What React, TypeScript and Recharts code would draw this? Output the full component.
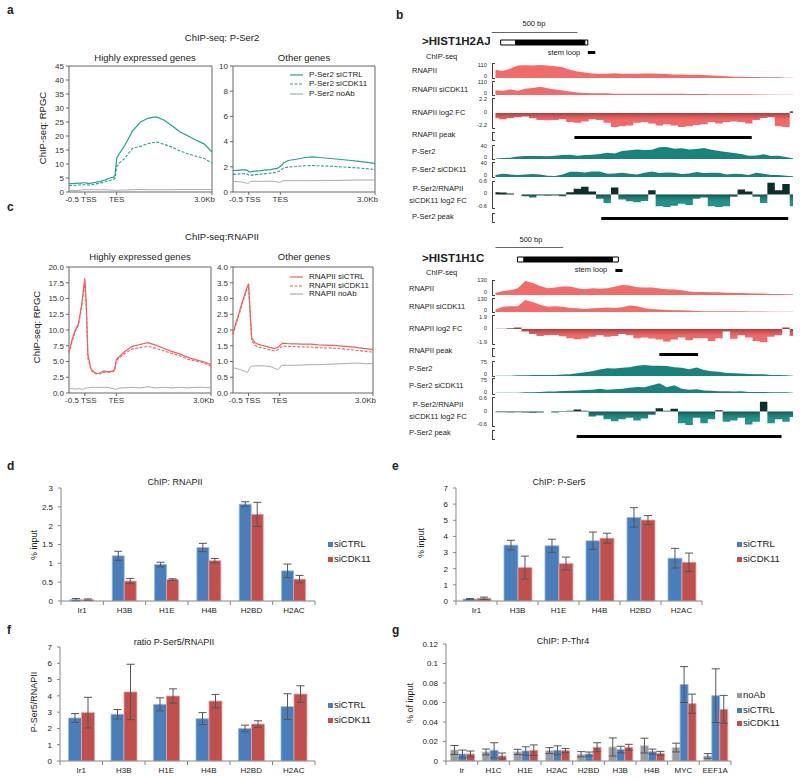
import React from 'react';
import {
  LineChart, Line, XAxis, YAxis, ReferenceArea, AreaChart, Area,
  BarChart, Bar, ErrorBar, ComposedChart,
} from 'recharts';

const FONT = '"Liberation Sans", Arial, Helvetica, sans-serif';

// ---------------- a / c : metagene profiles ----------------
const profileBp = [-500, -400, -300, -200, -100, -50, 0, 50, 100, 200, 300, 400, 500, 600, 700, 800, 900, 950, 1000, 1050, 1100, 1250, 1500, 1750, 2000, 2250, 2500, 2750, 3000, 3250, 3500, 3750, 4000];
const profileTicks = [0, 1000, 4000];
const profileTickLabels = ['-0.5 TSS', 'TES', '3.0Kb'];

const ser2HighCtrl = [3.0, 3.0, 3.1, 3.2, 3.2, 3.3, 3.3, 3.2, 3.1, 3.2, 3.4, 3.6, 3.8, 4.2, 4.6, 5.1, 5.2, 6.0, 12.0, 13.0, 14.0, 16.5, 21.8, 25.0, 26.4, 26.8, 25.6, 23.6, 21.4, 20.0, 18.5, 17.2, 14.3];
const ser2HighCdk = [2.3, 2.3, 2.4, 2.5, 2.5, 2.6, 2.6, 2.5, 2.5, 2.6, 2.8, 3.0, 3.2, 3.5, 3.9, 4.2, 4.4, 5.0, 9.0, 9.8, 10.5, 12.0, 15.6, 16.3, 17.3, 17.9, 17.0, 16.0, 14.6, 13.6, 12.8, 12.0, 10.3];
const ser2HighNoAb = [0.6, 0.6, 0.5, 0.6, 0.7, 0.8, 0.8, 0.8, 0.8, 0.8, 0.8, 0.8, 0.8, 0.8, 0.8, 0.7, 0.7, 0.6, 0.6, 0.6, 0.7, 0.7, 0.8, 0.9, 0.8, 0.8, 0.8, 0.8, 0.9, 0.9, 0.9, 0.9, 0.9];
const ser2OtherCtrl = [1.70, 1.72, 1.74, 1.75, 1.76, 1.72, 1.62, 1.60, 1.62, 1.65, 1.68, 1.70, 1.73, 1.76, 1.78, 1.83, 1.88, 1.95, 2.05, 2.15, 2.30, 2.50, 2.60, 2.72, 2.78, 2.74, 2.68, 2.62, 2.56, 2.50, 2.43, 2.35, 2.27];
const ser2OtherCdk = [1.40, 1.42, 1.44, 1.45, 1.46, 1.42, 1.34, 1.32, 1.34, 1.38, 1.40, 1.42, 1.44, 1.48, 1.50, 1.54, 1.58, 1.62, 1.70, 1.80, 1.90, 1.98, 2.02, 2.08, 2.10, 2.08, 2.05, 2.02, 1.98, 1.94, 1.90, 1.85, 1.80];
const ser2OtherNoAb = [0.85, 0.82, 0.80, 0.78, 0.72, 0.70, 0.70, 0.82, 0.85, 0.85, 0.85, 0.85, 0.85, 0.86, 0.86, 0.85, 0.80, 0.76, 0.78, 0.86, 0.90, 0.90, 0.90, 0.90, 0.90, 0.91, 0.92, 0.92, 0.93, 0.94, 0.95, 0.95, 0.95];

const polHighCtrl = [6.5, 8.5, 10.0, 11.0, 14.0, 16.0, 18.2, 14.0, 6.0, 3.8, 3.3, 3.1, 3.2, 3.5, 3.4, 3.4, 3.5, 3.8, 5.3, 5.6, 5.8, 6.5, 7.4, 7.7, 8.0, 7.6, 7.1, 6.6, 6.2, 5.7, 5.3, 5.0, 4.5];
const polHighCdk = [6.3, 8.2, 9.8, 10.8, 13.6, 15.6, 17.6, 13.0, 5.5, 3.6, 3.1, 3.0, 3.1, 3.3, 3.3, 3.3, 3.4, 3.6, 5.1, 5.4, 5.6, 6.2, 7.0, 7.2, 7.4, 7.1, 6.7, 6.3, 5.9, 5.4, 5.1, 4.8, 4.3];
const polHighNoAb = [0.7, 0.7, 0.6, 0.7, 0.6, 0.6, 0.7, 0.8, 0.8, 0.9, 0.9, 0.9, 0.9, 0.9, 0.9, 0.8, 0.7, 0.6, 0.6, 0.7, 0.8, 0.8, 0.9, 0.8, 1.0, 0.8, 0.9, 0.8, 0.9, 0.8, 0.9, 0.9, 0.8];
const polOtherCtrl = [1.90, 2.25, 2.55, 2.90, 3.20, 3.35, 3.47, 2.60, 1.75, 1.60, 1.55, 1.52, 1.50, 1.47, 1.44, 1.42, 1.43, 1.45, 1.50, 1.55, 1.58, 1.57, 1.56, 1.55, 1.55, 1.53, 1.52, 1.51, 1.49, 1.47, 1.44, 1.41, 1.38];
const polOtherCdk = [1.85, 2.20, 2.50, 2.85, 3.15, 3.30, 3.42, 2.50, 1.68, 1.52, 1.47, 1.44, 1.42, 1.39, 1.36, 1.34, 1.35, 1.37, 1.42, 1.46, 1.49, 1.48, 1.47, 1.46, 1.46, 1.44, 1.43, 1.42, 1.40, 1.38, 1.35, 1.32, 1.30];
const polOtherNoAb = [0.80, 0.78, 0.75, 0.72, 0.68, 0.65, 0.72, 0.82, 0.85, 0.86, 0.86, 0.86, 0.86, 0.85, 0.84, 0.80, 0.76, 0.74, 0.80, 0.87, 0.88, 0.88, 0.88, 0.89, 0.90, 0.90, 0.91, 0.92, 0.93, 0.94, 0.95, 0.93, 0.93];

const ser2HighTicks = [0, 5, 10, 15, 20, 25, 30, 35, 40, 45];
const ser2OtherTicks = [0, 2, 4, 6, 8, 10];
const polHighTicks = [0, 2.5, 5, 7.5, 10, 12.5, 15, 17.5, 20];
const polOtherTicks = [0, 0.5, 1, 1.5, 2, 2.5, 3, 3.5, 4];

// ---------------- b : genome browser tracks ----------------
const trackIndex = [0, 1, 2, 3, 4, 5, 6, 7, 8, 9, 10, 11, 12, 13, 14, 15, 16, 17, 18, 19, 20, 21, 22, 23, 24, 25, 26, 27, 28, 29, 30, 31, 32, 33, 34, 35, 36, 37, 38, 39, 40];

const g1RnaCtrl = [69, 60, 80, 105, 108, 106, 110, 105, 100, 90, 69, 55, 47, 38, 36, 36, 41, 36, 36, 36, 38, 38, 36, 33, 30, 30, 27, 27, 25, 22, 19, 14, 11, 11, 8, 8, 6, 6, 6, 3, 3];
const g1RnaCdk = [41, 36, 47, 36, 52, 60, 69, 58, 47, 38, 30, 22, 16, 14, 14, 14, 11, 11, 11, 11, 11, 11, 11, 10, 10, 10, 8, 8, 8, 7, 7, 7, 7, 7, 7, 5, 5, 3, 3, 2, 1];
const g1RnaFc = [-0.83, -1.0, -0.77, -0.66, -0.55, -0.83, -1.1, -1.15, -1.1, -1.0, -1.43, -1.54, -1.32, -1.0, -1.1, -1.54, -2.2, -2.1, -1.98, -1.54, -1.43, -1.65, -1.98, -1.76, -1.98, -2.2, -2.1, -1.87, -1.76, -1.43, -1.65, -1.43, -1.32, -1.43, -1.65, -1.1, -0.77, -0.66, -2.1, -2.2, 0.28];
const g1SerCtrl = [2, 3, 4, 8, 10, 10, 10, 9, 11, 13, 14, 11, 13, 14, 17, 21, 18, 27, 29, 32, 30, 31, 39, 40, 34, 36, 32, 33, 37, 31, 27, 23, 20, 17, 11, 12, 16, 10, 11, 7, 2];
const g1SerCdk = [6, 10, 8, 6, 8, 9, 8, 4, 3, 8, 16, 16, 14, 17, 17, 10, 11, 13, 10, 8, 13, 17, 12, 14, 13, 9, 11, 15, 12, 13, 13, 8, 10, 9, 6, 13, 10, 6, 6, 4, 2];
const g1SerFc = [0.11, 0.10, 0.05, 0, -0.08, -0.15, -0.05, -0.06, -0.05, -0.08, 0.11, 0.28, 0.37, 0.15, -0.21, -0.41, 0.34, -0.24, -0.32, -0.37, -0.31, 0.21, -0.57, -0.66, -0.54, -0.44, -0.5, -0.21, -0.15, -0.57, -0.66, -0.57, -0.11, 0.24, 0.15, -0.11, -0.41, 0.57, 0.2, 0.5, -0.57];

const g2RnaCtrl = [19, 38, 44, 63, 130, 111, 83, 63, 70, 79, 79, 63, 54, 63, 57, 63, 76, 92, 89, 73, 70, 70, 60, 54, 51, 44, 32, 29, 29, 25, 25, 22, 19, 19, 16, 13, 13, 10, 10, 6, 6];
const g2RnaCdk = [26, 56, 63, 63, 130, 107, 78, 56, 63, 56, 44, 41, 33, 41, 44, 48, 44, 52, 70, 63, 41, 33, 26, 22, 19, 19, 15, 11, 9, 9, 9, 9, 9, 9, 5, 5, 5, 4, 4, 4, 4];
const g2RnaFc = [0.05, 0.05, 0.1, 0.19, -0.33, -0.67, -0.95, -0.86, -0.81, -1.0, -1.24, -1.38, -1.28, -1.05, -0.86, -1.05, -0.95, -0.67, -0.86, -1.24, -1.14, -1.28, -1.43, -1.71, -1.43, -1.14, -1.52, -1.24, -1.24, -1.62, -1.24, -0.33, -1.33, -0.86, -1.14, -1.62, -1.81, -1.05, -0.86, 0.19, -0.95];
const g2SerCtrl = [2, 2, 2, 4, 4, 6, 6, 6, 6, 8, 10, 16, 22, 28, 37, 45, 43, 47, 51, 59, 63, 59, 59, 57, 51, 47, 39, 49, 34, 28, 24, 18, 16, 14, 12, 10, 10, 6, 6, 4, 2];
const g2SerCdk = [2, 2, 2, 2, 4, 4, 6, 8, 8, 12, 13, 15, 17, 19, 25, 19, 21, 25, 31, 35, 33, 44, 56, 33, 44, 25, 19, 21, 15, 13, 10, 10, 8, 10, 6, 6, 6, 4, 4, 4, 2];
const g2SerFc = [-0.03, -0.03, -0.05, -0.03, -0.05, -0.06, -0.05, 0, -0.05, -0.02, 0.03, 0.09, 0.03, -0.22, -0.18, -0.34, -0.43, -0.34, -0.28, -0.4, -0.31, -0.15, 0.15, 0.03, 0.12, -0.52, -0.62, -0.28, -0.52, -0.34, 0.06, -0.46, -0.4, -0.28, -0.58, -0.46, 0.43, -0.52, -0.34, -0.46, -0.25];

// gene models / peaks (in track index units)
const g1ScaleBar: [number, number] = [-0.5, 11.0];
const g1Utr5: [number, number] = [0.7, 2.7];
const g1Cds: [number, number] = [2.7, 12.0];
const g1Utr3: [number, number] = [12.0, 12.4];
const g1Stem: [number, number] = [12.4, 13.4];
const g1RnaPeak: [number, number] = [10.6, 34.4];
const g1SerPeak: [number, number] = [14.2, 39.3];
const g2ScaleBar: [number, number] = [0, 9.1];
const g2Utr5: [number, number] = [2.95, 3.8];
const g2Cds: [number, number] = [3.8, 15.7];
const g2Utr3: [number, number] = [15.7, 16.5];
const g2Stem: [number, number] = [16.1, 17.05];
const g2RnaPeak: [number, number] = [22.0, 27.2];
const g2SerPeak: [number, number] = [10.9, 38.4];

// ---------------- d-g : ChIP-qPCR bars ----------------
const histCats = ['Ir1', 'H3B', 'H1E', 'H4B', 'H2BD', 'H2AC'];
const rnapCtrl = [0.035, 1.2, 0.97, 1.42, 2.57, 0.8];
const rnapCtrlErr = [0.03, 0.12, 0.06, 0.11, 0.065, 0.18];
const rnapCdk = [0.035, 0.53, 0.57, 1.07, 2.3, 0.58];
const rnapCdkErr = [0.02, 0.07, 0.02, 0.06, 0.32, 0.1];
const ser5Ctrl = [0.12, 3.46, 3.42, 3.73, 5.18, 2.65];
const ser5CtrlErr = [0.03, 0.3, 0.41, 0.54, 0.6, 0.61];
const ser5Cdk = [0.17, 2.07, 2.32, 3.89, 5.01, 2.4];
const ser5CdkErr = [0.07, 0.71, 0.4, 0.31, 0.28, 0.57];
const ratioCtrl = [2.64, 2.87, 3.48, 2.6, 2.0, 3.34];
const ratioCtrlErr = [0.27, 0.29, 0.4, 0.37, 0.2, 0.79];
const ratioCdk = [2.97, 4.24, 3.99, 3.68, 2.27, 4.11];
const ratioCdkErr = [0.94, 1.7, 0.44, 0.41, 0.2, 0.51];
const thr4Cats = ['Ir', 'H1C', 'H1E', 'H2AC', 'H2BD', 'H3B', 'H4B', 'MYC', 'EEF1A'];
const thr4NoAb = [0.0113, 0.0093, 0.0093, 0.0107, 0.0069, 0.0144, 0.0158, 0.0138, 0.0052];
const thr4NoAbErr = [0.0046, 0.003, 0.0027, 0.003, 0.0027, 0.0093, 0.0076, 0.0045, 0.0024];
const thr4Ctrl = [0.0072, 0.011, 0.0103, 0.011, 0.0072, 0.0117, 0.0096, 0.0784, 0.067];
const thr4CtrlErr = [0.004, 0.0077, 0.0043, 0.0045, 0.002, 0.0034, 0.0026, 0.0184, 0.0275];
const thr4Cdk = [0.0072, 0.0052, 0.011, 0.0107, 0.0141, 0.0141, 0.0079, 0.0588, 0.053];
const thr4CdkErr = [0.003, 0.003, 0.0055, 0.0022, 0.0046, 0.003, 0.002, 0.0098, 0.0143];
const ticks3 = [0, 0.5, 1, 1.5, 2, 2.5, 3];
const ticks7 = [0, 1, 2, 3, 4, 5, 6, 7];
const ticksThr4 = [0, 0.02, 0.04, 0.06, 0.08, 0.1, 0.12];

// ---------------- colours ----------------
const TEAL = '#2a9d95';
const RED = '#ef5e62';
const GRAY_LINE = '#ababab';
const BLUE_BAR = '#4a7ebb';
const RED_BAR = '#c0504d';
const GRAY_BAR = '#9b9b9b';

// ---------------- helpers ----------------
function Txt({ x, y, children, size = 8, bold = false, anchor = 'start', rotate = false, color = '#222' }: any) {
  const tx = anchor === 'start' ? '0' : anchor === 'middle' ? '-50%' : '-100%';
  return (
    <div style={{
      position: 'absolute', left: x, top: y, fontSize: size, fontWeight: bold ? 700 : 400,
      fontFamily: FONT, color, lineHeight: 1, whiteSpace: 'nowrap',
      transform: `translate(${tx}, -50%)` + (rotate ? ' rotate(-90deg)' : ''),
    }}>{children}</div>
  );
}

function ProfileTick(props: any) {
  const { x, y, payload } = props;
  const idx = profileTicks.indexOf(payload.value);
  const last = idx === profileTicks.length - 1;
  const anchor = last ? 'end' : 'middle';
  const dx = idx === 0 ? -4 : last ? 3 : 0;
  return (
    <text x={x + dx} y={y} dy="0.71em" textAnchor={anchor} fontSize={8} fill="#333" fontFamily={FONT}>
      {profileTickLabels[idx]}
    </text>
  );
}

function ProfilePanel(p: { left: number; top: number; plotW: number; plotH: number; yTicks: number[]; decimals: number; ctrl: number[]; cdk: number[]; noAb: number[]; color: string }) {
  const yW = 40, mt = 6, mr = 12, xH = 20;
  const yMax = p.yTicks[p.yTicks.length - 1];
  const data = profileBp.map((x, i) => ({ x, ctrl: p.ctrl[i], cdk: p.cdk[i], noab: p.noAb[i] }));
  return (
    <div style={{ position: 'absolute', left: p.left - yW, top: p.top - mt }}>
      <LineChart width={yW + p.plotW + mr} height={mt + p.plotH + xH} data={data} margin={{ top: mt, right: mr, bottom: 0, left: 0 }}>
        <XAxis dataKey="x" type="number" domain={[-500, 4000]} ticks={profileTicks} interval={0} height={xH}
          tickSize={3} tickMargin={1} stroke="#666" axisLine={false} tick={<ProfileTick />} />
        <YAxis type="number" domain={[0, yMax]} ticks={p.yTicks} interval={0} width={yW} tickSize={3} tickMargin={2}
          stroke="#666" axisLine={false} allowDataOverflow
          tick={{ fontSize: 8, fill: '#333', fontFamily: FONT }} tickFormatter={(v: number) => v.toFixed(p.decimals)} />
        <Line dataKey="noab" stroke={GRAY_LINE} strokeWidth={1} dot={false} isAnimationActive={false} />
        <Line dataKey="cdk" stroke={p.color} strokeWidth={1.1} strokeDasharray="3 1.5" dot={false} isAnimationActive={false} />
        <Line dataKey="ctrl" stroke={p.color} strokeWidth={1.2} dot={false} isAnimationActive={false} />
        <ReferenceArea x1={-500} x2={4000} y1={0} y2={yMax} fill="none" stroke="#666" strokeWidth={1} />
      </LineChart>
    </div>
  );
}

function ProfileLegend({ x, ys, labels, color }: { x: number; ys: number[]; labels: string[]; color: string }) {
  const styles = [
    { c: color, d: undefined },
    { c: color, d: '3 1.5' },
    { c: GRAY_LINE, d: undefined },
  ];
  return (
    <>
      {labels.map((l, k) => (
        <React.Fragment key={k}>
          <svg style={{ position: 'absolute', left: x, top: ys[k] - 2 }} width={13} height={4}>
            <line x1={0} x2={13} y1={2} y2={2} stroke={styles[k].c} strokeWidth={1.2} strokeDasharray={styles[k].d} />
          </svg>
          <Txt x={x + 19} y={ys[k]} size={8}>{l}</Txt>
        </React.Fragment>
      ))}
    </>
  );
}

// ----- tracks -----
const TRACK_LEFT = 487.55;
const TRACK_W = 305.45;
const TRACK_DOMAIN: [number, number] = [-1, 40];

function Track({ id, top, height, values, domain, kind }: { id: string; top: number; height: number; values: number[]; domain: [number, number]; kind: 'rna' | 'ser' | 'rnaFc' | 'serFc' }) {
  const data = trackIndex.map((i, k) => ({ i, v: values[k] }));
  const isFc = kind === 'rnaFc' || kind === 'serFc';
  const fill = kind === 'rna' ? '#f26b6b' : kind === 'ser' ? '#18837a' : `url(#${id})`;
  return (
    <div style={{ position: 'absolute', left: TRACK_LEFT, top }}>
      <AreaChart width={TRACK_W} height={height} data={data} margin={{ top: 0, right: 0, bottom: 0, left: 0 }}>
        <defs>
          {kind === 'rnaFc' && (
            <linearGradient id={id} gradientUnits="userSpaceOnUse" x1={0} y1={0} x2={0} y2={height}>
              <stop offset="0" stopColor="#9c3a3a" />
              <stop offset="0.5" stopColor="#a43e3e" />
              <stop offset="0.5" stopColor="#a83f3f" />
              <stop offset="0.62" stopColor="#d65555" />
              <stop offset="0.74" stopColor="#f06868" />
              <stop offset="1" stopColor="#f26b6b" />
            </linearGradient>
          )}
          {kind === 'serFc' && (
            <linearGradient id={id} gradientUnits="userSpaceOnUse" x1={0} y1={0} x2={0} y2={height}>
              <stop offset="0" stopColor="#0c2b28" />
              <stop offset="0.5" stopColor="#10302d" />
              <stop offset="0.5" stopColor="#145550" />
              <stop offset="0.64" stopColor="#1c7d75" />
              <stop offset="0.78" stopColor="#22928a" />
              <stop offset="1" stopColor="#22928a" />
            </linearGradient>
          )}
        </defs>
        <XAxis dataKey="i" type="number" domain={TRACK_DOMAIN} hide />
        <YAxis type="number" domain={domain} hide allowDataOverflow />
        <Area dataKey="v" type={isFc ? 'step' : 'linear'} baseValue={0} stroke="none" fill={fill} fillOpacity={1}
          isAnimationActive={false} />
      </AreaChart>
    </div>
  );
}

const stripData = [{ i: -1, v: 0.5 }, { i: 40, v: 0.5 }];
function Strip({ top, height, spans, pad = 0 }: { top: number; height: number; spans: { x: [number, number]; fill: string; stroke?: string }[]; pad?: number }) {
  return (
    <div style={{ position: 'absolute', left: TRACK_LEFT, top }}>
      <ComposedChart width={TRACK_W} height={height} data={stripData} margin={{ top: 0, right: 0, bottom: 0, left: 0 }}>
        <XAxis dataKey="i" type="number" domain={TRACK_DOMAIN} hide />
        <YAxis type="number" domain={[-pad, 1 + pad]} hide />
        <Line dataKey="v" stroke="none" dot={false} isAnimationActive={false} />
        {spans.map((s, k) => (
          <ReferenceArea key={k} x1={s.x[0]} x2={s.x[1]} y1={0} y2={1} fill={s.fill} fillOpacity={1}
            stroke={s.stroke ?? 'none'} strokeWidth={1} />
        ))}
      </ComposedChart>
    </div>
  );
}

function Bracket({ x, y0, y1 }: { x: number; y0: number; y1: number }) {
  return <div style={{ position: 'absolute', left: x, top: y0, width: 2, height: y1 - y0 - 2, borderLeft: '1px solid #444', borderTop: '1px solid #444', borderBottom: '1px solid #444' }} />;
}

type TrackCfg = { id: string; label: string[]; labelY: number[]; top: number; h: number; values: number[]; domain: [number, number]; kind: 'rna' | 'ser' | 'rnaFc' | 'serFc'; scale: [string, number][]; bracket: [number, number] };

function GeneBlock({ labelX, tracks, peaks }: { labelX: number; tracks: TrackCfg[]; peaks: { label: string; labelY: number; top: number; span: [number, number]; bracket: [number, number] }[] }) {
  return (
    <>
      {tracks.map((t) => (
        <React.Fragment key={t.id}>
          {t.label.length === 1
            ? <Txt x={labelX} y={t.labelY[0]} size={7.5}>{t.label[0]}</Txt>
            : t.label.map((l, k) => <Txt key={k} x={438} y={t.labelY[k]} size={7.5} anchor="middle">{l}</Txt>)}
          {t.scale.map(([s, y], k) => <Txt key={k} x={487} y={y} size={5.8} anchor="end" color="#333">{s}</Txt>)}
          <Bracket x={492} y0={t.bracket[0]} y1={t.bracket[1]} />
          <Track id={t.id} top={t.top} height={t.h} values={t.values} domain={t.domain} kind={t.kind} />
        </React.Fragment>
      ))}
      {peaks.map((p, k) => (
        <React.Fragment key={'p' + k}>
          <Txt x={labelX} y={p.labelY} size={7.5}>{p.label}</Txt>
          <Bracket x={492} y0={p.bracket[0]} y1={p.bracket[1]} />
          <Strip top={p.top} height={3} spans={[{ x: p.span, fill: '#000' }]} />
        </React.Fragment>
      ))}
    </>
  );
}

// ----- bar charts -----
function CatTick(props: any) {
  const { x, y, payload, index, bw, n } = props;
  const axisY = y - 4 - 2;
  return (
    <g>
      <line x1={x - bw / 2} x2={x - bw / 2} y1={axisY} y2={axisY + 4} stroke="#868686" />
      {index === n - 1 && <line x1={x + bw / 2} x2={x + bw / 2} y1={axisY} y2={axisY + 4} stroke="#868686" />}
      <text x={x} y={y} dy="0.71em" textAnchor="middle" fontSize={8} fill="#222" fontFamily={FONT}>{payload.value}</text>
    </g>
  );
}

type BarSeries = { name: string; values: number[]; errs: number[]; color: string; edge: string };
function BarPanel({ left, top, plotW, plotH, cats, series, ticks, gap }: { left: number; top: number; plotW: number; plotH: number; cats: string[]; series: BarSeries[]; ticks: number[]; gap: string }) {
  const yW = 40, mt = 6, mr = 4, xH = 18;
  const data = cats.map((c, k) => {
    const row: any = { c };
    series.forEach((s) => { row[s.name] = s.values[k]; row[s.name + 'Err'] = s.errs[k]; });
    return row;
  });
  const yMax = ticks[ticks.length - 1];
  return (
    <div style={{ position: 'absolute', left: left - yW, top: top - mt }}>
      <BarChart width={yW + plotW + mr} height={mt + plotH + xH} data={data} margin={{ top: mt, right: mr, bottom: 0, left: 0 }}
        barCategoryGap={gap} barGap={0}>
        <XAxis dataKey="c" interval={0} height={xH} tickSize={4} tickMargin={2} tickLine={false} stroke="#868686"
          tick={<CatTick bw={plotW / cats.length} n={cats.length} />} />
        <YAxis type="number" domain={[0, yMax]} ticks={ticks} interval={0} width={yW} tickSize={3} tickMargin={5}
          stroke="#868686" allowDataOverflow tick={{ fontSize: 8, fill: '#222', fontFamily: FONT }} />
        {series.map((s) => (
          <Bar key={s.name} dataKey={s.name} fill={s.color} stroke={s.edge} strokeWidth={0.8} isAnimationActive={false}>
            <ErrorBar dataKey={s.name + 'Err'} width={4} stroke="#555" strokeWidth={1} direction="y" isAnimationActive={false} />
          </Bar>
        ))}
      </BarChart>
    </div>
  );
}

function BarLegend({ x, ys, labels, colors }: { x: number; ys: number[]; labels: string[]; colors: string[] }) {
  return (
    <>
      {labels.map((l, k) => (
        <React.Fragment key={k}>
          <div style={{ position: 'absolute', left: x, top: ys[k] - 2.5, width: 5, height: 5, background: colors[k] }} />
          <Txt x={x + 6} y={ys[k]} size={9.5}>{l}</Txt>
        </React.Fragment>
      ))}
    </>
  );
}

// ---------------- App ----------------
export default function App() {
  const gene1Tracks: TrackCfg[] = [
    { id: 'g1a', label: ['RNAPII'], labelY: [71], top: 65, h: 13, values: g1RnaCtrl, domain: [0, 110], kind: 'rna', scale: [['110', 66], ['0', 76.5]], bracket: [63, 79] },
    { id: 'g1b', label: ['RNAPII siCDK11'], labelY: [90], top: 82, h: 13, values: g1RnaCdk, domain: [0, 110], kind: 'rna', scale: [['110', 82.5], ['0', 93.8]], bracket: [81, 96] },
    { id: 'g1c', label: ['RNAPII log2 FC'], labelY: [113], top: 99, h: 28, values: g1RnaFc, domain: [-2.2, 2.2], kind: 'rnaFc', scale: [['2.2', 100.2], ['0', 113], ['-2.2', 126]], bracket: [98, 129] },
    { id: 'g1d', label: ['P-Ser2'], labelY: [152], top: 147, h: 12, values: g1SerCtrl, domain: [0, 40], kind: 'ser', scale: [['40', 147], ['0', 158]], bracket: [145, 160] },
    { id: 'g1e', label: ['P-Ser2 siCDK11'], labelY: [170], top: 164, h: 13, values: g1SerCdk, domain: [0, 40], kind: 'ser', scale: [['40', 164.2], ['0', 175.8]], bracket: [162, 178] },
    { id: 'g1f', label: ['P-Ser2/RNAPII', 'siCDK11 log2 FC'], labelY: [189, 201], top: 182, h: 25, values: g1SerFc, domain: [-0.6, 0.6], kind: 'serFc', scale: [['0.6', 182.2], ['0', 194], ['-0.6', 207]], bracket: [181, 209] },
  ];
  const gene1Peaks = [
    { label: 'RNAPII peak', labelY: 135, top: 135.5, span: g1RnaPeak, bracket: [132, 141] as [number, number] },
    { label: 'P-Ser2 peak', labelY: 217, top: 216.5, span: g1SerPeak, bracket: [213, 223] as [number, number] },
  ];
  const gene2Tracks: TrackCfg[] = [
    { id: 'g2a', label: ['RNAPII'], labelY: [289], top: 281, h: 14, values: g2RnaCtrl, domain: [0, 130], kind: 'rna', scale: [['130', 281], ['0', 293]], bracket: [280, 296] },
    { id: 'g2b', label: ['RNAPII siCDK11'], labelY: [307], top: 300, h: 12, values: g2RnaCdk, domain: [0, 130], kind: 'rna', scale: [['130', 300], ['0', 311]], bracket: [298, 313] },
    { id: 'g2c', label: ['RNAPII log2 FC'], labelY: [329], top: 315, h: 28, values: g2RnaFc, domain: [-1.9, 1.9], kind: 'rnaFc', scale: [['1.9', 318], ['0', 329], ['-1.9', 343]], bracket: [315, 345] },
    { id: 'g2d', label: ['P-Ser2'], labelY: [369], top: 363, h: 13, values: g2SerCtrl, domain: [0, 75], kind: 'ser', scale: [['75', 363], ['0', 374.5]], bracket: [361, 377] },
    { id: 'g2e', label: ['P-Ser2 siCDK11'], labelY: [386], top: 380, h: 13, values: g2SerCdk, domain: [0, 75], kind: 'ser', scale: [['75', 380.5], ['0', 392.5]], bracket: [378, 395] },
    { id: 'g2f', label: ['P-Ser2/RNAPII', 'siCDK11 log2 FC'], labelY: [405, 417], top: 398, h: 27, values: g2SerFc, domain: [-0.6, 0.6], kind: 'serFc', scale: [['0.6', 399.2], ['0', 412], ['-0.6', 425]], bracket: [397, 427] },
  ];
  const gene2Peaks = [
    { label: 'RNAPII peak', labelY: 351, top: 352.5, span: g2RnaPeak, bracket: [348, 357] as [number, number] },
    { label: 'P-Ser2 peak', labelY: 433, top: 434.5, span: g2SerPeak, bracket: [430, 440] as [number, number] },
  ];

  return (
    <div style={{ position: 'absolute', left: 0, top: 0, width: 800, height: 781, background: '#fff', overflow: 'hidden', fontFamily: FONT }}>
      {/* panel letters */}
      <Txt x={7} y={10} size={12} bold>a</Txt>
      <Txt x={396} y={15} size={12} bold>b</Txt>
      <Txt x={7} y={207} size={12} bold>c</Txt>
      <Txt x={7} y={466} size={12} bold>d</Txt>
      <Txt x={392} y={466} size={12} bold>e</Txt>
      <Txt x={7} y={630} size={12} bold>f</Txt>
      <Txt x={392} y={630} size={12} bold>g</Txt>

      {/* ---- a ---- */}
      <Txt x={222} y={38} size={9.5} anchor="middle">ChIP-seq: P-Ser2</Txt>
      <Txt x={145} y={58} size={9.5} anchor="middle">Highly expressed genes</Txt>
      <Txt x={304} y={58} size={9.5} anchor="middle">Other genes</Txt>
      <Txt x={43} y={128} size={9.5} anchor="middle" rotate>ChIP-seq: RPGC</Txt>
      <ProfilePanel left={69} top={66} plotW={143} plotH={126} yTicks={ser2HighTicks} decimals={0} ctrl={ser2HighCtrl} cdk={ser2HighCdk} noAb={ser2HighNoAb} color={TEAL} />
      <ProfilePanel left={233} top={66} plotW={142} plotH={126} yTicks={ser2OtherTicks} decimals={0} ctrl={ser2OtherCtrl} cdk={ser2OtherCdk} noAb={ser2OtherNoAb} color={TEAL} />
      <ProfileLegend x={290} ys={[75, 84, 94]} labels={['P-Ser2 siCTRL', 'P-Ser2 siCDK11', 'P-Ser2 noAb']} color={TEAL} />

      {/* ---- c ---- */}
      <Txt x={222} y={237} size={9.5} anchor="middle">ChIP-seq:RNAPII</Txt>
      <Txt x={140} y={257} size={9.5} anchor="middle">Highly expressed genes</Txt>
      <Txt x={304} y={257} size={9.5} anchor="middle">Other genes</Txt>
      <Txt x={37} y={327} size={9.5} anchor="middle" rotate>ChIP-seq: RPGC</Txt>
      <ProfilePanel left={69} top={267} plotW={142} plotH={126} yTicks={polHighTicks} decimals={1} ctrl={polHighCtrl} cdk={polHighCdk} noAb={polHighNoAb} color={RED} />
      <ProfilePanel left={233} top={267} plotW={140} plotH={126} yTicks={polOtherTicks} decimals={1} ctrl={polOtherCtrl} cdk={polOtherCdk} noAb={polOtherNoAb} color={RED} />
      <ProfileLegend x={290} ys={[277, 286, 294]} labels={['RNAPII siCTRL', 'RNAPII siCDK11', 'RNAPII noAb']} color={RED} />

      {/* ---- b : gene 1 ---- */}
      <Strip top={31.5} height={1} spans={[{ x: g1ScaleBar, fill: '#666' }]} />
      <Txt x={534} y={24} size={7.5} anchor="middle">500 bp</Txt>
      <Txt x={422} y={42} size={11.5} bold>&gt;HIST1H2AJ</Txt>
      <Strip top={38.5} height={7} pad={0.2} spans={[
        { x: g1Cds, fill: '#000', stroke: '#000' },
        { x: g1Utr5, fill: '#fff', stroke: '#000' },
        { x: g1Utr3, fill: '#fff', stroke: '#000' },
      ]} />
      <Txt x={564} y={53} size={7.5} anchor="middle">stem loop</Txt>
      <Strip top={51} height={3} spans={[{ x: g1Stem, fill: '#000' }]} />
      <Txt x={426} y={57} size={7.5}>ChIP-seq</Txt>
      <GeneBlock labelX={412} tracks={gene1Tracks} peaks={gene1Peaks} />

      {/* ---- b : gene 2 ---- */}
      <Strip top={246.5} height={1} spans={[{ x: g2ScaleBar, fill: '#666' }]} />
      <Txt x={531} y={240} size={7.5} anchor="middle">500 bp</Txt>
      <Txt x={422} y={259} size={11.5} bold>&gt;HIST1H1C</Txt>
      <Strip top={255.5} height={7} pad={0.2} spans={[
        { x: g2Cds, fill: '#000', stroke: '#000' },
        { x: g2Utr5, fill: '#fff', stroke: '#000' },
        { x: g2Utr3, fill: '#fff', stroke: '#000' },
      ]} />
      <Txt x={591} y={270} size={7.5} anchor="middle">stem loop</Txt>
      <Strip top={268.5} height={3} spans={[{ x: g2Stem, fill: '#000' }]} />
      <Txt x={426} y={273} size={7.5}>ChIP-seq</Txt>
      <GeneBlock labelX={409} tracks={gene2Tracks} peaks={gene2Peaks} />

      {/* ---- d ---- */}
      <Txt x={175} y={482} size={9} anchor="middle">ChIP: RNAPII</Txt>
      <Txt x={34} y={545} size={9} anchor="middle" rotate>% input</Txt>
      <BarPanel left={61} top={488} plotW={254} plotH={113} cats={histCats} ticks={ticks3} gap="21%"
        series={[
          { name: 'siCTRL', values: rnapCtrl, errs: rnapCtrlErr, color: BLUE_BAR, edge: '#9bb9e2' },
          { name: 'siCDK11', values: rnapCdk, errs: rnapCdkErr, color: RED_BAR, edge: '#e3a5a3' },
        ]} />
      <BarLegend x={328} ys={[544, 559]} labels={['siCTRL', 'siCDK11']} colors={[BLUE_BAR, RED_BAR]} />

      {/* ---- e ---- */}
      <Txt x={559} y={482} size={9} anchor="middle">ChIP: P-Ser5</Txt>
      <Txt x={421} y={543} size={9} anchor="middle" rotate>% input</Txt>
      <BarPanel left={456} top={488} plotW={246} plotH={113} cats={histCats} ticks={ticks7} gap="17%"
        series={[
          { name: 'siCTRL', values: ser5Ctrl, errs: ser5CtrlErr, color: BLUE_BAR, edge: '#9bb9e2' },
          { name: 'siCDK11', values: ser5Cdk, errs: ser5CdkErr, color: RED_BAR, edge: '#e3a5a3' },
        ]} />
      <BarLegend x={737} ys={[544, 559]} labels={['siCTRL', 'siCDK11']} colors={[BLUE_BAR, RED_BAR]} />

      {/* ---- f ---- */}
      <Txt x={174} y={642} size={9} anchor="middle">ratio P-Ser5/RNAPII</Txt>
      <Txt x={34} y={702} size={9} anchor="middle" rotate>P-Ser5/RNAPII</Txt>
      <BarPanel left={60} top={647} plotW={255} plotH={114} cats={histCats} ticks={ticks7} gap="20%"
        series={[
          { name: 'siCTRL', values: ratioCtrl, errs: ratioCtrlErr, color: BLUE_BAR, edge: '#9bb9e2' },
          { name: 'siCDK11', values: ratioCdk, errs: ratioCdkErr, color: RED_BAR, edge: '#e3a5a3' },
        ]} />
      <BarLegend x={328} ys={[705, 720]} labels={['siCTRL', 'siCDK11']} colors={[BLUE_BAR, RED_BAR]} />

      {/* ---- g ---- */}
      <Txt x={563} y={641} size={9} anchor="middle">ChIP: P-Thr4</Txt>
      <Txt x={410} y={703} size={9} anchor="middle" rotate>% of input</Txt>
      <BarPanel left={446} top={644} plotW={285} plotH={117} cats={thr4Cats} ticks={ticksThr4} gap="14%"
        series={[
          { name: 'noAb', values: thr4NoAb, errs: thr4NoAbErr, color: GRAY_BAR, edge: '#cfcfcf' },
          { name: 'siCTRL', values: thr4Ctrl, errs: thr4CtrlErr, color: BLUE_BAR, edge: '#9bb9e2' },
          { name: 'siCDK11', values: thr4Cdk, errs: thr4CdkErr, color: RED_BAR, edge: '#e3a5a3' },
        ]} />
      <BarLegend x={737} ys={[695, 710, 723]} labels={['noAb', 'siCTRL', 'siCDK11']} colors={[GRAY_BAR, BLUE_BAR, RED_BAR]} />
    </div>
  );
}
